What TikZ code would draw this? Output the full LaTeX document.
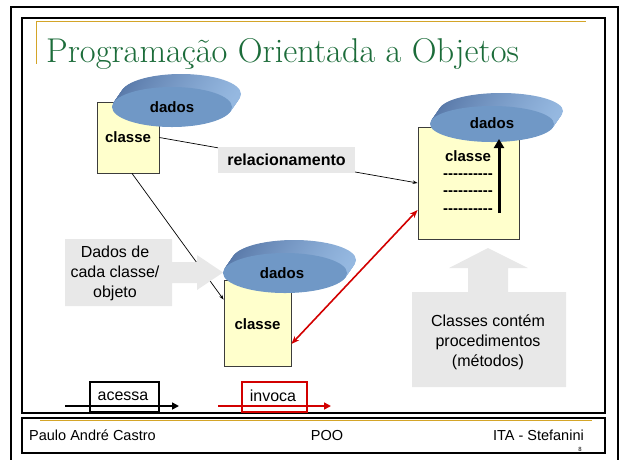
\documentclass[tikz,border=0pt]{standalone}
\usepackage{fontspec}
\setsansfont{Liberation Sans}
\usetikzlibrary{arrows.meta,calc,shapes.geometric}
\definecolor{gold}{RGB}{212,165,40}
\definecolor{titlegreen}{RGB}{28,108,58}
\definecolor{classyellow}{RGB}{255,255,204}
\definecolor{diskfront}{RGB}{112,152,198}
\definecolor{diskdark}{RGB}{88,120,168}
\definecolor{disklight}{RGB}{150,185,225}
\definecolor{callgray}{RGB}{232,232,232}
\definecolor{redline}{RGB}{210,0,0}
\newcommand\hy{\hbox{-}}
\newcommand\dashrow{\hy\hy\hy\hy\hy\hy\hy\hy\hy\hy}
\tikzset{
  classbox/.style={draw={rgb,255:red,60;green,60;blue,60},line width=0.8pt,fill=classyellow,inner sep=0pt},
  lbl/.style={font=\sffamily\bfseries\fontsize{15}{17}\selectfont,inner sep=0pt},
  plain/.style={font=\sffamily\fontsize{16}{20}\selectfont,inner sep=0pt,align=center},
  foot/.style={font=\sffamily\fontsize{14.5}{16}\selectfont,inner sep=0pt},
  conn/.style={line width=0.7pt,-{Stealth[length=5pt,width=3.5pt]}},
  redconn/.style={redline,line width=1.6pt,{Stealth[length=8pt,width=6pt]}-{Stealth[length=8pt,width=6pt]}},
}
\newcommand\mydisk[5]{% name, cx, cy, rx, ry
  \foreach \t in {1,0.95,...,0.04}{
    \shade[left color=diskdark,right color=disklight] (#2+9*\t,#3-13*\t) ellipse [x radius=#4pt,y radius=#5pt];
  }
  \node[ellipse,fill=diskfront,minimum width=2*#4pt,minimum height=2*#5pt,inner sep=0pt] (#1) at (#2,#3) {};
}
\begin{document}
\begin{tikzpicture}[x=1pt,y=-1pt]
\useasboundingbox (0,0) rectangle (620,459);
% frames
\draw[line width=2pt] (11,475) -- (11,7) -- (618,7) -- (618,475);
\draw[line width=1.2pt] (22,18) rectangle (605,413);
\draw[line width=1.2pt] (22,418) rectangle (605,453);
\draw[gold,line width=1pt] (36,21) -- (586,21);
\draw[gold,line width=1pt] (36,21) -- (36,64);
\draw[gold,line width=1pt] (40,420.5) -- (592,420.5);
% title
\node[anchor=base west,inner sep=0pt,text=titlegreen,font=\rmfamily\fontsize{34.4}{38}\selectfont] (title) at (46,62) {Programação Orientada a Objetos};
% class boxes
\node[classbox,minimum width=62pt,minimum height=71pt] (c1) at (128,137.5) {};
\node[classbox,minimum width=101pt,minimum height=112pt] (c2) at (468.5,183) {};
\node[classbox,minimum width=67pt,minimum height=86pt] (c3) at (257.5,323) {};
% connectors
\draw[conn] (c1.east) -- (c2.west);
\draw[conn] ([xshift=4pt]c1.south) -- ([yshift=-20pt]c3.north west);
\draw[redconn] ([yshift=-27pt]c2.west) -- ([yshift=-21pt]c3.east);
% relacionamento label
\node[fill=callgray,minimum width=137pt,minimum height=26pt,inner sep=0pt,font=\sffamily\bfseries\fontsize{16}{18}\selectfont] (rel) at (286.5,160) {relacionamento};
% callouts
\fill[callgray] (65,239) -- (172,239) -- (172,262) -- (197,262) -- (197,255) -- (223,272.5) -- (197,290) -- (197,283) -- (172,283) -- (172,306) -- (65,306) -- cycle;
\node[plain] (cb1) at (115,273) {Dados de\\cada classe/\\objeto};
\fill[callgray] (412,292) -- (468,292) -- (468,268) -- (449,268) -- (488,248) -- (528,268) -- (508,268) -- (508,292) -- (566,292) -- (566,387) -- (412,387) -- cycle;
\node[plain] (cb2) at (488,342) {Classes contém\\procedimentos\\(métodos)};
% disks
\mydisk{d1}{172}{107}{60}{20}
\mydisk{d2}{492}{124}{62}{18}
\mydisk{d3}{285}{273}{62}{20}
\node[lbl] at (d1) {dados};
\node[lbl] at ([yshift=1pt]d2) {dados};
\node[lbl] at ([xshift=-3pt]d3) {dados};
% class texts
\node[lbl] (t1) at (c1) {classe};
\node[lbl] (t3) at ([yshift=-1pt]c3) {classe};
\node[lbl] (t2) at (468,156) {classe};
\node[lbl] (h1) at (468,176) {\dashrow};
\node[lbl] (h2) at (468,193.5) {\dashrow};
\node[lbl] (h3) at (468,211) {\dashrow};
\coordinate (abot) at (499,213);
\coordinate (atop) at (499,139);
\draw[line width=3pt,-{Triangle[length=9pt,width=10pt]}] (abot) -- (atop);
% legend
\node[draw,line width=2pt,minimum width=69pt,minimum height=30pt,inner sep=0pt] (acc) at (124.5,397) {};
\node[plain] at (123,396) {acessa};
\coordinate (a1) at (65,406);
\coordinate (a2) at (179,406);
\draw[line width=1.6pt,-{Triangle[length=7pt,width=7pt]}] (a1) -- (a2);
\node[draw=redline,line width=2pt,minimum width=65pt,minimum height=30pt,inner sep=0pt] (inv) at (274.5,397) {};
\node[plain] at (273,396) {invoca};
\coordinate (b1) at (218,406);
\coordinate (b2) at (331,406);
\draw[redline,line width=1.6pt,-{Triangle[length=7pt,width=7pt]}] (b1) -- (b2);
% footer
\node[foot,anchor=base west] (f1) at (29,440) {Paulo André Castro};
\node[foot,anchor=base] (f2) at (327,440) {POO};
\node[foot,anchor=base east] (f3) at (584,440) {ITA - Stefanini};
\node[font=\sffamily\fontsize{6}{7}\selectfont,inner sep=0pt] (pg) at (580,449) {8};
\end{tikzpicture}
\end{document}
